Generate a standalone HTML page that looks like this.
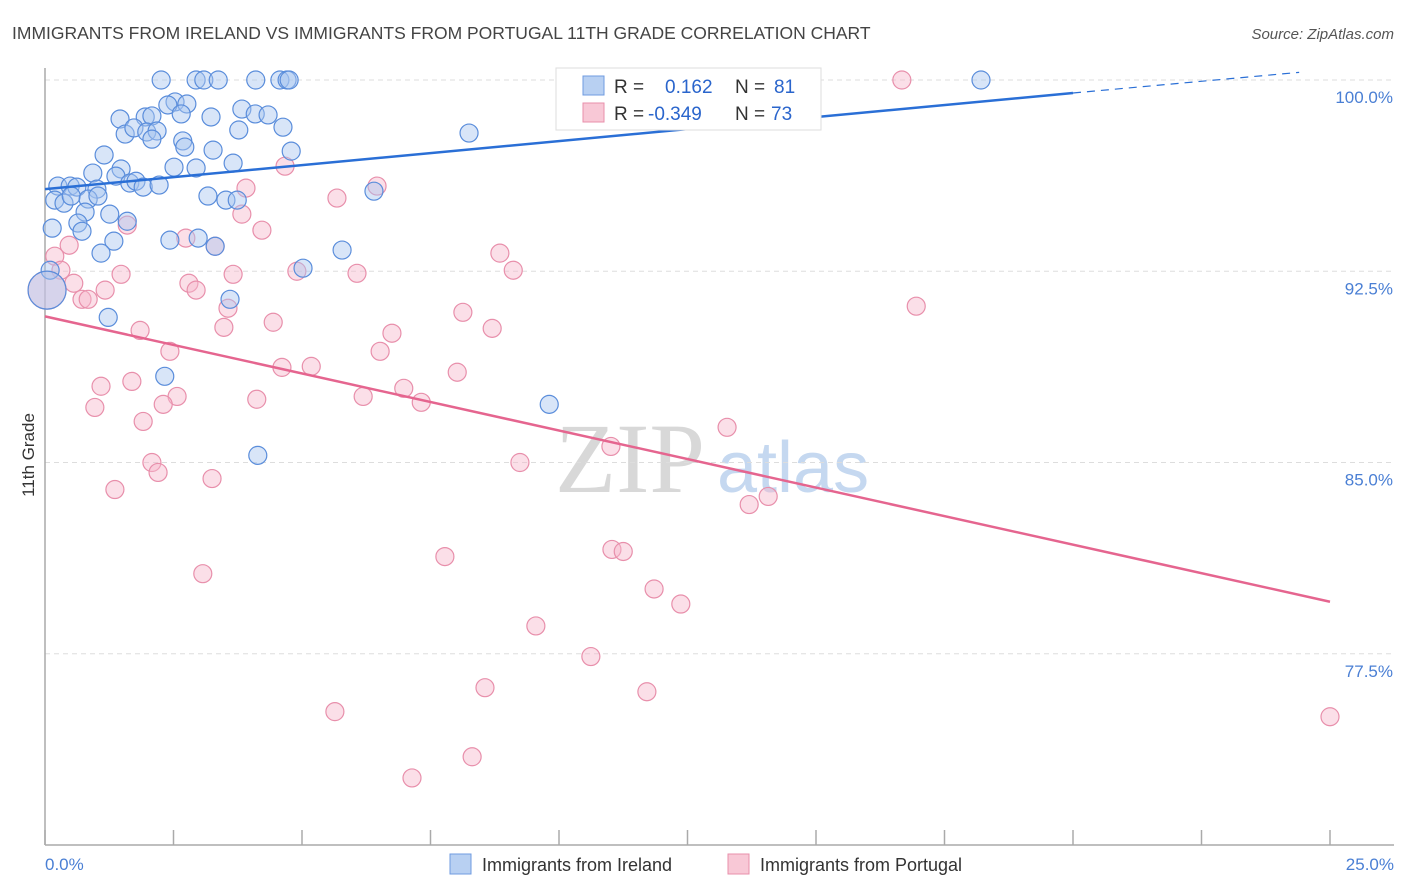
<!DOCTYPE html>
<html><head><meta charset="utf-8"><style>
body{margin:0;background:#fff;font-family:"Liberation Sans",sans-serif;}
svg{display:block}
</style></head><body>
<svg id="chart" width="1406" height="892" xmlns="http://www.w3.org/2000/svg">
<text x="12" y="39" font-size="17.5" fill="#444">IMMIGRANTS FROM IRELAND VS IMMIGRANTS FROM PORTUGAL 11TH GRADE CORRELATION CHART</text>
<text x="1394" y="39" font-size="15" fill="#555" font-style="italic" text-anchor="end">Source: ZipAtlas.com</text>
<text x="555" y="492" font-size="100" fill="#d8d8d8" font-family="Liberation Serif,serif">ZIP</text>
<text x="717" y="492" font-size="72" fill="#c5d8f0">atlas</text>
<g id="grid"></g>
<g id="axes"></g>
<g id="pts"></g>
<g id="lines"></g>
<text transform="translate(34,455) rotate(-90)" font-size="17" fill="#333" text-anchor="middle">11th Grade</text>
<text x="45" y="870" font-size="17" fill="#4a7fd4">0.0%</text>
<text x="1394" y="870" font-size="17" fill="#4a7fd4" text-anchor="end">25.0%</text>
<g>
<rect x="556" y="68" width="265" height="62" fill="#fff" stroke="#ddd"/>
<rect x="583" y="76" width="21" height="19" fill="#b8d0f2" stroke="#6f9be0"/>
<rect x="583" y="103" width="21" height="19" fill="#f8c8d6" stroke="#e88fab"/>
<text x="614" y="93" font-size="19" fill="#333">R =</text>
<text x="665" y="93" font-size="19" fill="#2a65cc">0.162</text>
<text x="735" y="93" font-size="19" fill="#333">N =</text>
<text x="774" y="93" font-size="19" fill="#2a65cc">81</text>
<text x="614" y="120" font-size="19" fill="#333">R =</text>
<text x="648" y="120" font-size="19" fill="#2a65cc">-0.349</text>
<text x="735" y="120" font-size="19" fill="#333">N =</text>
<text x="771" y="120" font-size="19" fill="#2a65cc">73</text>
</g>
<g>
<rect x="450" y="854" width="21" height="20" fill="#b8d0f2" stroke="#6f9be0"/>
<text x="482" y="871" font-size="18" fill="#333">Immigrants from Ireland</text>
</g>
<g>
<rect x="728" y="854" width="21" height="20" fill="#f8c8d6" stroke="#e88fab"/>
<text x="760" y="871" font-size="18" fill="#333">Immigrants from Portugal</text>
</g>
</svg>
<script>
const yTicks=[100,92.5,85,77.5];
const yTickLabels=["100.0%","92.5%","85.0%","77.5%"];
const xTicks=[0,2.5,5,7.5,10,12.5,15,17.5,20,22.5,25];
const irelandX=[2.26,2.94,3.09,3.37,4.10,4.57,4.71,4.75,18.21,11.19,2.53,2.39,2.76,3.83,1.46,1.95,2.08,2.65,3.23,4.09,4.34,1.56,1.73,1.98,2.18,2.08,2.68,2.72,3.27,3.77,4.63,4.79,8.25,1.15,1.48,0.93,1.38,2.51,2.94,3.66,0.25,0.49,0.62,1.01,1.65,1.77,1.91,2.22,6.40,0.19,0.37,0.51,0.84,1.03,0.78,1.26,1.60,3.17,3.52,3.74,0.64,0.72,1.34,2.43,2.98,3.31,1.09,5.78,0.14,0.10,5.02,3.60,1.23,2.33,9.81,4.14,0.04];
const irelandY=[100,100,100,100,100,100,100,100,100,99.29,99.14,99.02,99.06,98.86,98.47,98.55,98.59,98.67,98.55,98.67,98.63,97.88,98.12,97.96,98.00,97.68,97.61,97.37,97.25,98.04,98.15,97.21,97.92,97.06,96.51,96.35,96.23,96.58,96.55,96.74,95.84,95.84,95.80,95.72,95.96,96.03,95.80,95.88,95.64,95.29,95.17,95.45,95.33,95.45,94.82,94.74,94.46,95.45,95.29,95.29,94.39,94.07,93.68,93.72,93.80,93.48,93.21,93.33,94.19,92.54,92.62,91.40,90.69,88.38,87.28,85.28,91.76];
const portugalX=[13.87,16.67,4.67,3.91,6.46,5.68,3.83,1.60,4.22,0.47,2.74,3.31,0.19,0.31,4.90,6.07,8.85,9.11,3.66,1.48,0.56,2.80,2.94,1.17,0.72,0.84,3.56,8.13,16.95,4.44,1.85,3.48,8.70,6.75,2.43,6.52,4.61,5.18,8.02,1.09,1.69,6.98,2.57,4.12,6.19,7.32,0.97,2.30,1.91,13.27,11.01,2.08,9.24,2.20,3.25,1.36,14.07,13.70,11.03,11.25,7.78,3.07,11.85,12.37,9.55,10.62,8.56,11.71,5.64,25.0,8.31,7.14,0.04];
const portugalY=[100,100,96.62,95.76,95.84,95.37,94.74,94.31,94.11,93.52,93.80,93.48,93.09,92.54,92.50,92.42,93.21,92.54,92.38,92.38,92.03,92.03,91.76,91.76,91.40,91.40,91.05,90.89,91.13,90.50,90.18,90.30,90.26,90.07,89.36,89.36,88.73,88.77,88.54,87.99,88.18,87.91,87.59,87.48,87.59,87.36,87.16,87.28,86.61,86.38,85.63,85.00,85.00,84.61,84.37,83.94,83.67,83.35,81.59,81.51,81.31,80.64,80.04,79.45,78.59,77.39,76.17,76.01,75.23,75.03,73.46,72.63,91.76];
const irelandTrend=[[0,95.72],[20,99.49]];
const irelandTrendDash=[[20,99.49],[24.4,100.3]];
const portugalTrend=[[0,90.73],[25,79.54]];
const NS="http://www.w3.org/2000/svg";
const X0=45,X1=1330,Y0=845,Y1=80,XMIN=0,XMAX=25,YMIN=70,YMAX=100;
const sx=v=>X0+(v-XMIN)/(XMAX-XMIN)*(X1-X0);
const sy=v=>Y0-(v-YMIN)/(YMAX-YMIN)*(Y0-Y1);
function mk(tag,attrs,parent){const e=document.createElementNS(NS,tag);for(const k in attrs)e.setAttribute(k,attrs[k]);document.getElementById(parent).appendChild(e);return e;}
yTicks.forEach((t,i)=>{
 const l=mk('line',{x1:45,x2:1394,y1:sy(t),y2:sy(t),stroke:'#ddd','stroke-dasharray':'5,4'},'grid');
 
 
 const tx=mk('text',{x:1393,y:sy(t)+23,'font-size':17,fill:'#4a7fd4','text-anchor':'end'},'grid');
 tx.textContent=yTickLabels[i];
 
 
});
const ya=mk('line',{x1:45,x2:45,y1:68,y2:845,stroke:'#aaa','stroke-width':1.5},'axes');


const xa=mk('line',{x1:45,x2:1394,y1:845,y2:845,stroke:'#aaa','stroke-width':1.5},'axes');


xTicks.forEach(t=>{
 const l=mk('line',{x1:sx(t),x2:sx(t),y1:830,y2:845,stroke:'#aaa','stroke-width':1.5},'axes');
 
 
});
function pts(xs,ys,fill,stroke,name){
 xs.forEach((x,i)=>{
  const big=(i===xs.length-1);
  const c=mk('circle',{cx:sx(x),cy:sy(ys[i]),r:big?19:9,fill:fill,'fill-opacity':0.45,stroke:stroke,'stroke-width':1.2},'pts');
  
  
 });
}
pts(portugalX,portugalY,'#f7b8cb','#e88fab','portugal-point');
pts(irelandX,irelandY,'#a9c6f0','#5a8ddb','ireland-point');
const bl=mk('line',{x1:sx(irelandTrend[0][0]),y1:sy(irelandTrend[0][1]),x2:sx(irelandTrend[1][0]),y2:sy(irelandTrend[1][1]),stroke:'#2a6fd6','stroke-width':2.5},'lines');


const bd=mk('line',{x1:sx(irelandTrendDash[0][0]),y1:sy(irelandTrendDash[0][1]),x2:sx(irelandTrendDash[1][0]),y2:sy(irelandTrendDash[1][1]),stroke:'#2a6fd6','stroke-width':1.2,'stroke-dasharray':'8,6'},'lines');


const pl=mk('line',{x1:sx(portugalTrend[0][0]),y1:sy(portugalTrend[0][1]),x2:sx(portugalTrend[1][0]),y2:sy(portugalTrend[1][1]),stroke:'#e5658f','stroke-width':2.5},'lines');


</script>
</body></html>
